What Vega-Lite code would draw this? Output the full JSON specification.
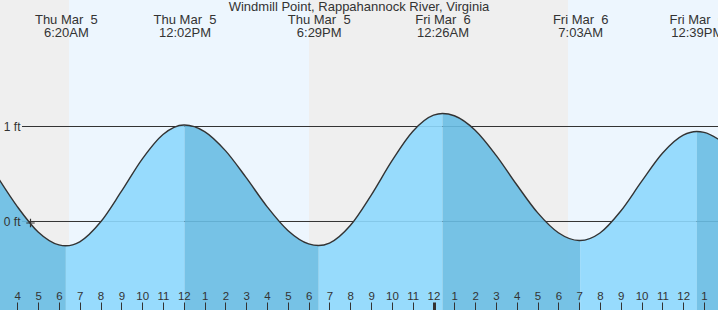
{
  "$schema": "https://vega.github.io/schema/vega-lite/v6.json",
  "width": 718,
  "height": 310,
  "autosize": "none",
  "padding": 0,
  "background": "#ffffff",
  "config": {"view": {"stroke": null}, "font": "Liberation Sans"},
  "title": {
    "text": "Windmill Point, Rappahannock River, Virginia",
    "anchor": "middle",
    "frame": "group",
    "fontSize": 13,
    "fontWeight": "normal",
    "color": "#333333",
    "font": "Liberation Sans",
    "offset": 0,
    "baseline": "alphabetic",
    "dy": 24
  },
  "datasets": {
    "sun": [
      {"start": 3.0, "end": 6.484, "period": "night"},
      {"start": 6.484, "end": 18.017, "period": "day"},
      {"start": 18.017, "end": 30.463, "period": "night"},
      {"start": 30.463, "end": 38.0, "period": "day"}
    ],
    "levels": [{"level": 0}, {"level": 1}],
    "now": [{"t": 4.634, "h": -0.016}],
    "tide": [
      {"t": 3.0, "h": 0.486, "seg": 0, "dir": "falling", "s": 0},
      {"t": 4, "h": 0.157, "seg": 0, "dir": "falling", "s": 0},
      {"t": 5, "h": -0.11, "seg": 0, "dir": "falling", "s": 0},
      {"t": 6, "h": -0.2465, "seg": 0, "dir": "falling", "s": 0},
      {"t": 6.333, "h": -0.256, "seg": 0, "dir": "falling", "s": 0},
      {"t": 6.333, "h": -0.256, "seg": 1, "dir": "rising", "s": 1},
      {"t": 7, "h": -0.2135, "seg": 1, "dir": "rising", "s": 0},
      {"t": 8, "h": -0.006, "seg": 1, "dir": "rising", "s": 0},
      {"t": 9, "h": 0.316, "seg": 1, "dir": "rising", "s": 0},
      {"t": 10, "h": 0.657, "seg": 1, "dir": "rising", "s": 0},
      {"t": 11, "h": 0.916, "seg": 1, "dir": "rising", "s": 0},
      {"t": 12, "h": 1.016, "seg": 1, "dir": "rising", "s": 0},
      {"t": 12.033, "h": 1.016, "seg": 1, "dir": "rising", "s": 0},
      {"t": 12.033, "h": 1.016, "seg": 2, "dir": "falling", "s": 1},
      {"t": 13, "h": 0.947, "seg": 2, "dir": "falling", "s": 0},
      {"t": 14, "h": 0.746, "seg": 2, "dir": "falling", "s": 0},
      {"t": 15, "h": 0.461, "seg": 2, "dir": "falling", "s": 0},
      {"t": 16, "h": 0.157, "seg": 2, "dir": "falling", "s": 0},
      {"t": 17, "h": -0.094, "seg": 2, "dir": "falling", "s": 0},
      {"t": 18, "h": -0.2355, "seg": 2, "dir": "falling", "s": 0},
      {"t": 18.483, "h": -0.253, "seg": 2, "dir": "falling", "s": 0},
      {"t": 18.483, "h": -0.253, "seg": 3, "dir": "rising", "s": 1},
      {"t": 19, "h": -0.227, "seg": 3, "dir": "rising", "s": 0},
      {"t": 20, "h": -0.042, "seg": 3, "dir": "rising", "s": 0},
      {"t": 21, "h": 0.276, "seg": 3, "dir": "rising", "s": 0},
      {"t": 22, "h": 0.638, "seg": 3, "dir": "rising", "s": 0},
      {"t": 23, "h": 0.948, "seg": 3, "dir": "rising", "s": 0},
      {"t": 24, "h": 1.119, "seg": 3, "dir": "rising", "s": 0},
      {"t": 24.433, "h": 1.137, "seg": 3, "dir": "rising", "s": 0},
      {"t": 24.433, "h": 1.137, "seg": 4, "dir": "falling", "s": 1},
      {"t": 25, "h": 1.113, "seg": 4, "dir": "falling", "s": 0},
      {"t": 26, "h": 0.961, "seg": 4, "dir": "falling", "s": 0},
      {"t": 27, "h": 0.699, "seg": 4, "dir": "falling", "s": 0},
      {"t": 28, "h": 0.387, "seg": 4, "dir": "falling", "s": 0},
      {"t": 29, "h": 0.093, "seg": 4, "dir": "falling", "s": 0},
      {"t": 30, "h": -0.1185, "seg": 4, "dir": "falling", "s": 0},
      {"t": 31, "h": -0.2, "seg": 4, "dir": "falling", "s": 0},
      {"t": 31.05, "h": -0.2, "seg": 4, "dir": "falling", "s": 0},
      {"t": 31.05, "h": -0.2, "seg": 5, "dir": "rising", "s": 1},
      {"t": 32, "h": -0.121, "seg": 5, "dir": "rising", "s": 0},
      {"t": 33, "h": 0.1105, "seg": 5, "dir": "rising", "s": 0},
      {"t": 34, "h": 0.422, "seg": 5, "dir": "rising", "s": 0},
      {"t": 35, "h": 0.719, "seg": 5, "dir": "rising", "s": 0},
      {"t": 36, "h": 0.909, "seg": 5, "dir": "rising", "s": 0},
      {"t": 36.65, "h": 0.947, "seg": 5, "dir": "rising", "s": 0},
      {"t": 36.65, "h": 0.947, "seg": 6, "dir": "falling", "s": 1},
      {"t": 37, "h": 0.938, "seg": 6, "dir": "falling", "s": 0},
      {"t": 38, "h": 0.822, "seg": 6, "dir": "falling", "s": 0}
    ]
  },
  "resolve": {"axis": {"x": "independent", "y": "independent"}, "scale": {"color": "independent"}},
  "layer": [
    {
      "data": {"name": "sun"},
      "mark": {"type": "rect", "clip": true},
      "encoding": {
        "x": {"field": "start", "type": "quantitative", "scale": {"domain": [3.168, 37.671], "nice": false, "zero": false}, "axis": null},
        "x2": {"field": "end"},
        "fill": {"field": "period", "type": "nominal", "scale": {"domain": ["night", "day"], "range": ["#efefef", "#edf6fe"]}, "legend": null}
      }
    },
    {
      "data": {"name": "levels"},
      "mark": {"type": "rule", "color": "#333333", "strokeWidth": 1, "clip": true},
      "encoding": {
        "y": {"field": "level", "type": "quantitative", "scale": {"domain": [-0.9316, 2.3316], "nice": false, "zero": false}, "axis": null},
        "x": {"datum": 4.225, "type": "quantitative", "axis": null},
        "x2": {"datum": 38}
      }
    },
    {
      "data": {"name": "tide"},
      "mark": {"type": "area", "interpolate": "monotone", "opacity": 0.9, "clip": true},
      "encoding": {
        "x": {
          "field": "t", "type": "quantitative",
          "axis": {
            "orient": "bottom", "offset": -8, "zindex": 1,
            "values": [4,5,6,7,8,9,10,11,12,13,14,15,16,17,18,19,20,21,22,23,24,25,26,27,28,29,30,31,32,33,34,35,36,37],
            "domain": false, "grid": false, "tickSize": 8, "tickColor": "#333333",
            "tickWidth": {"condition": {"test": "datum.value == 24", "value": 3}, "value": 1},
            "labelExpr": "datum.value % 12 == 0 ? '12' : '' + (datum.value % 12)",
            "labelFont": "Liberation Sans", "labelFontSize": 11.5, "labelColor": "#333333",
            "labelBaseline": "alphabetic", "labelPadding": -10.5,
            "labelOverlap": false, "labelBound": false, "labelFlush": false, "title": null
          }
        },
        "y": {
          "field": "h", "type": "quantitative", "stack": null,
          "axis": {
            "orient": "left", "offset": -20, "zindex": 1, "values": [0, 1],
            "domain": false, "ticks": false, "grid": false, "labelPadding": 0,
            "labelAlign": "right", "labelBaseline": "middle",
            "labelFont": "Liberation Sans", "labelFontSize": 12, "labelColor": "#333333",
            "labelExpr": "datum.value + ' ft'", "labelBound": false, "labelFlush": false, "title": null
          }
        },
        "y2": {"datum": -1},
        "color": {"field": "dir", "type": "nominal", "scale": {"domain": ["falling", "rising"], "range": ["#68bde3", "#8dd8fd"]}, "legend": null},
        "detail": {"field": "seg", "type": "nominal"}
      }
    },
    {
      "data": {"name": "tide"},
      "transform": [{"filter": "datum.s == 0"}],
      "mark": {"type": "line", "interpolate": "monotone", "color": "#333333", "strokeWidth": 1.4, "clip": true},
      "encoding": {
        "x": {
          "field": "t", "type": "quantitative",
          "axis": {
            "orient": "top", "offset": -23, "zindex": 1,
            "values": [6.333, 12.033, 18.483, 24.433, 31.05, 36.65],
            "domain": false, "ticks": false, "grid": false, "labelPadding": 0,
            "labelBaseline": "alphabetic", "labelLineHeight": 13.5,
            "labelFont": "Liberation Sans", "labelFontSize": 13, "labelColor": "#333333",
            "labelExpr": "datum.value < 7 ? ['Thu Mar \u00a05','6:20AM'] : datum.value < 13 ? ['Thu Mar \u00a05','12:02PM'] : datum.value < 19 ? ['Thu Mar \u00a05','6:29PM'] : datum.value < 25 ? ['Fri Mar \u00a06','12:26AM'] : datum.value < 32 ? ['Fri Mar \u00a06','7:03AM'] : ['Fri Mar \u00a06','12:39PM']",
            "labelOverlap": false, "labelBound": false, "labelFlush": false, "title": null
          }
        },
        "y": {"field": "h", "type": "quantitative", "axis": null}
      }
    },
    {
      "data": {"name": "now"},
      "mark": {"type": "point", "shape": "M-1,0L1,0M0,-1L0,1", "size": 70, "filled": false, "stroke": "#333333", "strokeWidth": 1.2, "opacity": 1},
      "encoding": {
        "x": {"field": "t", "type": "quantitative", "axis": null},
        "y": {"field": "h", "type": "quantitative", "axis": null}
      }
    }
  ]
}
